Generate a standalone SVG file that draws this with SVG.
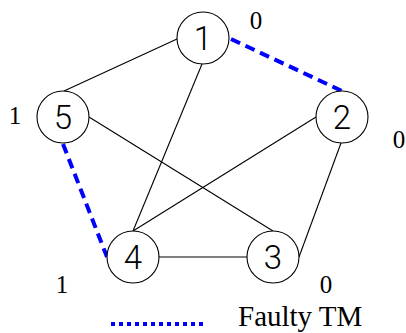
<svg xmlns="http://www.w3.org/2000/svg" width="406" height="333" viewBox="0 0 406 333">
<style>
.node circle{fill:#fff;stroke:#000;stroke-width:1.1}
.node text{font-family:Roboto,"Liberation Sans",sans-serif;font-weight:300;font-size:33px;text-anchor:middle;fill:#000}
.edge{stroke:#000;stroke-width:1.1;fill:none}
.faulty{stroke:#0000ff;stroke-width:4;stroke-dasharray:10 6;fill:none}
</style>
<rect width="406" height="333" fill="#fff"/>
<g id="connectors">
<line class="edge" x1="177" y1="39" x2="64" y2="91"/>
<line class="edge" x1="202" y1="64" x2="133" y2="231"/>
<line class="edge" x1="89" y1="117" x2="273" y2="231"/>
<line class="edge" x1="316" y1="117" x2="133" y2="231"/>
<line class="edge" x1="341" y1="143" x2="299" y2="257"/>
<line class="edge" x1="159" y1="257" x2="247" y2="257"/>
<line class="faulty" x1="231" y1="39" x2="342" y2="91"/>
<line class="faulty" x1="63" y1="144" x2="107" y2="257"/>
</g>
<g id="node1" class="node"><circle cx="203" cy="38" r="26"/><text x="203" y="50">1</text></g>
<g id="node2" class="node"><circle cx="342" cy="117" r="26"/><text x="342" y="129">2</text></g>
<g id="node5" class="node"><circle cx="63" cy="117" r="26"/><text x="63" y="129">5</text></g>
<g id="node4" class="node"><circle cx="133" cy="257" r="26"/><text x="133" y="269">4</text></g>
<g id="node3" class="node"><circle cx="273" cy="257" r="26"/><text x="273" y="269">3</text></g>
<g id="labels" font-family="'Liberation Serif', 'DejaVu Serif', serif" font-size="25" text-anchor="middle" fill="#000">
<text x="256" y="29">0</text>
<text x="15" y="124">1</text>
<text x="399" y="148">0</text>
<text x="62" y="293">1</text>
<text x="326" y="293">0</text>
</g>
<g id="legend">
<line x1="111" y1="324" x2="207" y2="324" stroke="#0000ff" stroke-width="4" stroke-dasharray="4 4"/>
<text x="238" y="326" font-family="'Liberation Serif', 'DejaVu Serif', serif" font-size="29" fill="#000">Faulty TM</text>
</g>
</svg>
